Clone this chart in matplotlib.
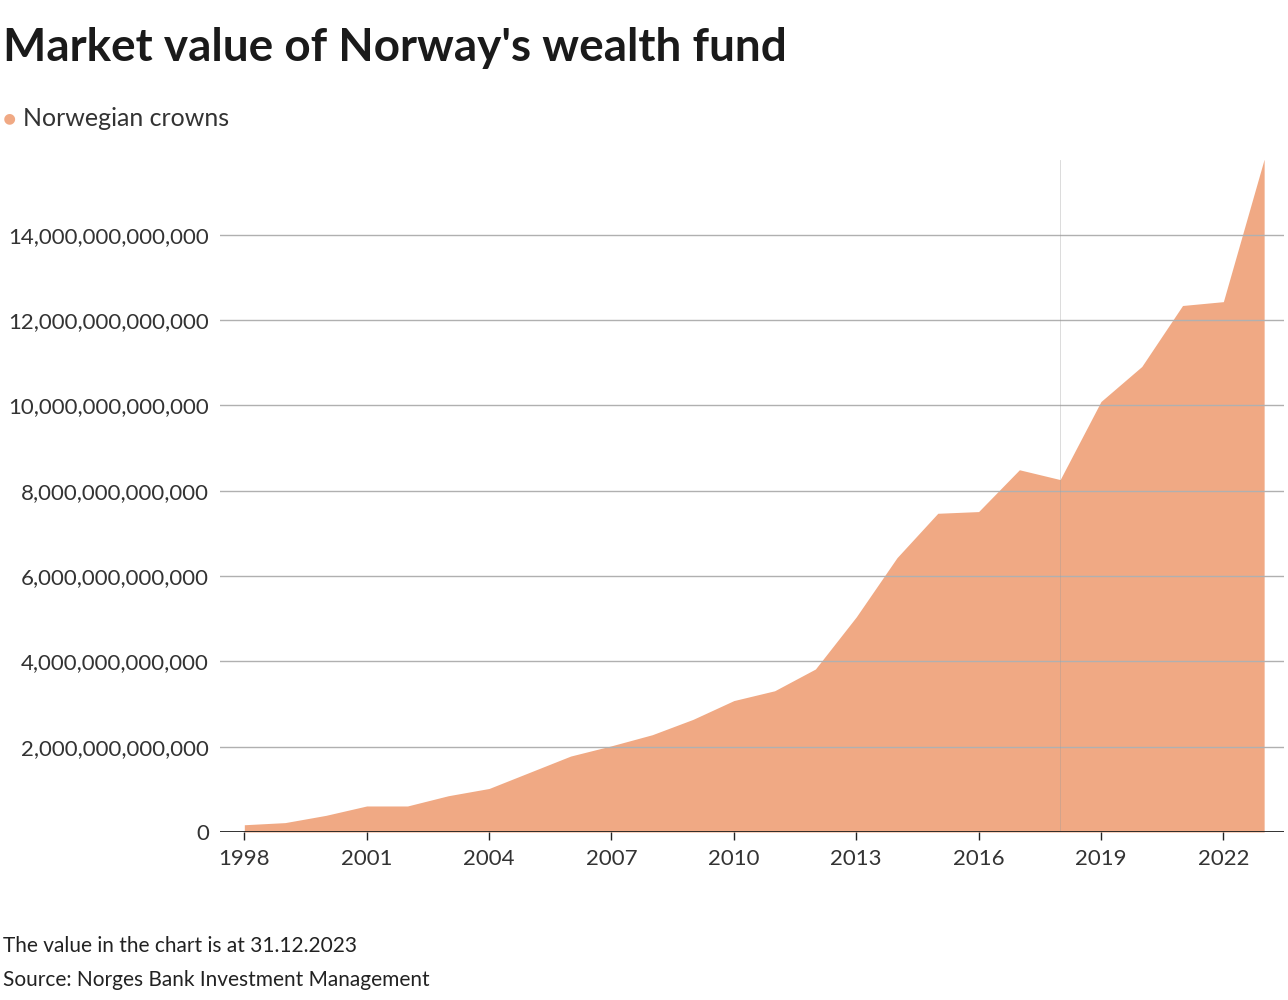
import matplotlib.pyplot as plt
from matplotlib.ticker import FuncFormatter

plt.rcParams['font.family'] = 'Lato'

years = list(range(1998, 2024))
values_trn = [0.17, 0.22, 0.39, 0.61, 0.61, 0.85, 1.02, 1.40, 1.78, 2.02, 2.28, 2.64, 3.08,
              3.31, 3.82, 5.04, 6.43, 7.47, 7.51, 8.49, 8.26, 10.09, 10.91, 12.34, 12.43, 15.77]
values = [v * 1e12 for v in values_trn]
x_ticks = [1998, 2001, 2004, 2007, 2010, 2013, 2016, 2019, 2022]
y_ticks = [0, 2e12, 4e12, 6e12, 8e12, 10e12, 12e12, 14e12]

fill_color = '#f0a984'

fig = plt.figure(figsize=(12.88, 10), dpi=100)
ax = fig.add_axes([0.171, 0.168, 0.826, 0.672])

ax.fill_between(years, values, 0, color=fill_color, linewidth=0, zorder=1)
for y in y_ticks[1:]:
    ax.axhline(y, color='#b0b0b0', linewidth=1, zorder=2)
ax.axvline(2018, color='#999999', linewidth=0.6, alpha=0.4, zorder=3)
ax.axhline(0, color='#222222', linewidth=1.3, zorder=4)

ax.set_xlim(1997.41, 2023.49)
ax.set_ylim(0, 15.75e12)
ax.set_xticks(x_ticks)
ax.set_yticks(y_ticks)
ax.yaxis.set_major_formatter(FuncFormatter(lambda v, p: f'{int(v):,}'))
ax.tick_params(axis='y', length=0, pad=8, labelsize=16, labelcolor='#333333')
ax.tick_params(axis='x', length=6, width=1, color='#222222', pad=6, labelsize=16,
               labelcolor='#333333')
for s in ax.spines.values():
    s.set_visible(False)

fig.text(0.002, 0.952, "Market value of Norway's wealth fund", fontsize=33,
         fontweight='bold', color='#1a1a1a', va='center')
fig.text(0.002, 0.881, '\u25CF', fontsize=16, color=fill_color, va='center')
fig.text(0.018, 0.881, 'Norwegian crowns', fontsize=18, color='#333333', va='center')
fig.text(0.002, 0.054, 'The value in the chart is at 31.12.2023', fontsize=15,
         color='#222222', va='center')
fig.text(0.002, 0.020, 'Source: Norges Bank Investment Management', fontsize=15,
         color='#222222', va='center')

fig.savefig('out.png', dpi=100)
